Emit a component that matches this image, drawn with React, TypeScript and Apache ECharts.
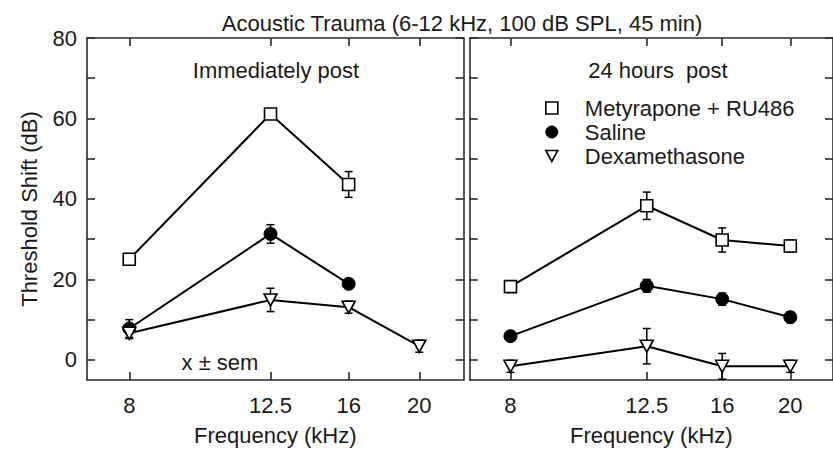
import React, { useEffect, useRef } from 'react';
import * as echarts from 'echarts';

// ---------- data ----------
const frequencies = [8, 12.5, 16, 20];
const xTickValues = [8, 12.5, 16, 20];
const yTickValues = [0, 10, 20, 30, 40, 50, 60, 70, 80];
const yLabelValues = [0, 20, 40, 60, 80];
const groupNames = ['Metyrapone + RU486', 'Saline', 'Dexamethasone'];

// Immediately post (mean, sem)
const immMetyrapone = [25.0, 61.1, 43.6, null];
const immMetyraponeErr = [0.8, 0.8, 3.2, null];
const immSaline = [7.8, 31.3, 18.9, null];
const immSalineErr = [2.2, 2.3, 0.8, null];
const immDexa = [6.6, 14.9, 13.1, 3.4];
const immDexaErr = [1.3, 2.9, 1.5, 1.5];

// 24 hours post (mean, sem)
const dayMetyrapone = [18.2, 38.3, 29.8, 28.3];
const dayMetyraponeErr = [1.2, 3.4, 3.0, 1.5];
const daySaline = [5.9, 18.4, 15.1, 10.6];
const daySalineErr = [1.0, 1.6, 1.5, 1.3];
const dayDexa = [-1.6, 3.4, -1.6, -1.6];
const dayDexaErr = [1.5, 4.4, 3.2, 1.5];

const FONT = '"Liberation Sans", Arial, Helvetica, sans-serif';
const FS = 22;
const AXIS_COLOR = '#2a2a2a';
const TEXT_COLOR = '#1a1a1a';

const pairs = (vals: (number | null)[]) =>
  frequencies
    .map((f, i) => (vals[i] == null ? null : [f, vals[i] as number]))
    .filter((d) => d != null) as number[][];

const triplets = (vals: (number | null)[], errs: (number | null)[]) =>
  frequencies
    .map((f, i) => (vals[i] == null ? null : [f, vals[i] as number, (errs[i] as number) || 0]))
    .filter((d) => d != null) as number[][];

const symbolStyles = [
  { symbol: 'rect', symbolSize: 12, symbolRotate: 0, itemStyle: { color: '#fff', borderColor: '#000', borderWidth: 1.6 } },
  { symbol: 'circle', symbolSize: 13, symbolRotate: 0, itemStyle: { color: '#000', borderColor: '#000', borderWidth: 1 } },
  { symbol: 'triangle', symbolSize: [13, 12], symbolRotate: 180, itemStyle: { color: '#fff', borderColor: '#000', borderWidth: 1.6 } },
];

function lineSeries(name: string, vals: (number | null)[], kind: number, panel: number) {
  const s = symbolStyles[kind];
  return {
    type: 'line',
    name,
    xAxisIndex: panel * 2,
    yAxisIndex: panel * 2,
    data: pairs(vals),
    symbol: s.symbol,
    symbolSize: s.symbolSize,
    symbolRotate: s.symbolRotate,
    itemStyle: s.itemStyle,
    lineStyle: { color: '#000', width: 2 },
    emphasis: { disabled: true },
    silent: true,
    z: 3,
  };
}

function errorSeries(name: string, vals: (number | null)[], errs: (number | null)[], panel: number) {
  return {
    type: 'custom',
    name,
    xAxisIndex: panel * 2,
    yAxisIndex: panel * 2,
    data: triplets(vals, errs),
    encode: { x: 0, y: 1 },
    silent: true,
    z: 1,
    renderItem: (_params: any, api: any) => {
      const x = api.value(0);
      const y = api.value(1);
      const e = api.value(2);
      const top = api.coord([x, y + e]);
      const bot = api.coord([x, y - e]);
      const cap = 4;
      const st = { stroke: '#000', lineWidth: 1.5 };
      return {
        type: 'group',
        children: [
          { type: 'line', shape: { x1: top[0], y1: top[1], x2: bot[0], y2: bot[1] }, style: st },
          { type: 'line', shape: { x1: top[0] - cap, y1: top[1], x2: top[0] + cap, y2: top[1] }, style: st },
          { type: 'line', shape: { x1: bot[0] - cap, y1: bot[1], x2: bot[0] + cap, y2: bot[1] }, style: st },
        ],
      };
    },
  };
}

function xAxes(gridIndex: number) {
  const common = {
    type: 'log',
    logBase: 10,
    gridIndex,
    min: 7,
    max: 23,
    splitLine: { show: false },
    minorTick: { show: false },
    axisLine: { show: true, onZero: false, lineStyle: { color: AXIS_COLOR, width: 1.6 } },
    axisTick: { show: true, inside: true, length: 8, customValues: xTickValues, lineStyle: { color: AXIS_COLOR, width: 1.6 } },
  };
  return [
    {
      ...common,
      position: 'bottom',
      name: 'Frequency (kHz)',
      nameLocation: 'middle',
      nameGap: 44,
      nameTextStyle: { fontSize: FS, fontFamily: FONT, color: TEXT_COLOR },
      axisLabel: {
        show: true,
        customValues: xTickValues,
        margin: 14,
        fontSize: FS,
        fontFamily: FONT,
        color: TEXT_COLOR,
        formatter: (v: number) => String(Math.round(v * 10) / 10),
      },
    },
    { ...common, position: 'top', axisLabel: { show: false } },
  ];
}

function yAxes(gridIndex: number, withLabels: boolean) {
  const common = {
    type: 'value',
    gridIndex,
    min: -5,
    max: 80,
    splitLine: { show: false },
    axisLine: { show: true, onZero: false, lineStyle: { color: AXIS_COLOR, width: 1.6 } },
    axisTick: { show: true, inside: true, length: 8, customValues: yTickValues, lineStyle: { color: AXIS_COLOR, width: 1.6 } },
  };
  return [
    {
      ...common,
      position: 'left',
      name: withLabels ? 'Threshold Shift (dB)' : '',
      nameLocation: 'middle',
      nameGap: 47,
      nameTextStyle: { fontSize: FS, fontFamily: FONT, color: TEXT_COLOR },
      axisLabel: {
        show: withLabels,
        customValues: yLabelValues,
        margin: 10,
        fontSize: FS,
        fontFamily: FONT,
        color: TEXT_COLOR,
      },
    },
    { ...common, position: 'right', axisLabel: { show: false } },
  ];
}

export default function App() {
  const ref = useRef<HTMLDivElement>(null);

  useEffect(() => {
    if (!ref.current) return;
    const chart = echarts.init(ref.current, undefined, { renderer: 'svg' });

    const option: any = {
      animation: false,
      backgroundColor: '#fff',
      textStyle: { fontFamily: FONT },
      grid: [
        { left: 87, top: 38, width: 376.5, height: 346 },
        { left: 469.7, top: 38, width: 376.5, height: 346 },
      ],
      xAxis: [...xAxes(0), ...xAxes(1)],
      yAxis: [...yAxes(0, true), ...yAxes(1, false)],
      legend: {
        show: true,
        orient: 'vertical',
        left: 540,
        top: 92,
        itemWidth: 12,
        itemHeight: 12,
        itemGap: 2,
        selectedMode: false,
        textStyle: { fontSize: FS, fontFamily: FONT, color: TEXT_COLOR, padding: [0, 0, 0, 22] },
        data: [
          { name: groupNames[0], icon: 'rect', itemStyle: { color: '#fff', borderColor: '#000', borderWidth: 1.6 } },
          { name: groupNames[1], icon: 'circle', itemStyle: { color: '#000', borderColor: '#000', borderWidth: 1 } },
          {
            name: groupNames[2],
            icon: 'path://M0,0L12,0L6,11Z',
            itemStyle: { color: '#fff', borderColor: '#000', borderWidth: 1.6 },
          },
        ],
      },
      graphic: [
        {
          type: 'text',
          x: 462,
          y: 23,
          style: { text: 'Acoustic Trauma (6-12 kHz, 100 dB SPL, 45 min)', fontSize: FS, fontFamily: FONT, fill: TEXT_COLOR, align: 'center', verticalAlign: 'middle' },
        },
        {
          type: 'text',
          x: 276,
          y: 70,
          style: { text: 'Immediately post', fontSize: FS, fontFamily: FONT, fill: TEXT_COLOR, align: 'center', verticalAlign: 'middle' },
        },
        {
          type: 'text',
          x: 658,
          y: 70,
          style: { text: '24 hours  post', fontSize: FS, fontFamily: FONT, fill: TEXT_COLOR, align: 'center', verticalAlign: 'middle' },
        },
        {
          type: 'text',
          x: 220,
          y: 362,
          style: { text: 'x ± sem', fontSize: FS, fontFamily: FONT, fill: TEXT_COLOR, align: 'center', verticalAlign: 'middle' },
        },
      ],
      series: [
        errorSeries(groupNames[0], immMetyrapone, immMetyraponeErr, 0),
        errorSeries(groupNames[1], immSaline, immSalineErr, 0),
        errorSeries(groupNames[2], immDexa, immDexaErr, 0),
        errorSeries(groupNames[0], dayMetyrapone, dayMetyraponeErr, 1),
        errorSeries(groupNames[1], daySaline, daySalineErr, 1),
        errorSeries(groupNames[2], dayDexa, dayDexaErr, 1),
        lineSeries(groupNames[0], immMetyrapone, 0, 0),
        lineSeries(groupNames[1], immSaline, 1, 0),
        lineSeries(groupNames[2], immDexa, 2, 0),
        lineSeries(groupNames[0], dayMetyrapone, 0, 1),
        lineSeries(groupNames[1], daySaline, 1, 1),
        lineSeries(groupNames[2], dayDexa, 2, 1),
      ],
    };

    chart.setOption(option);
    return () => chart.dispose();
  }, []);

  return (
    <div
      ref={ref}
      style={{ position: 'absolute', left: 0, top: 0, width: 833, height: 451, overflow: 'hidden' }}
    />
  );
}
